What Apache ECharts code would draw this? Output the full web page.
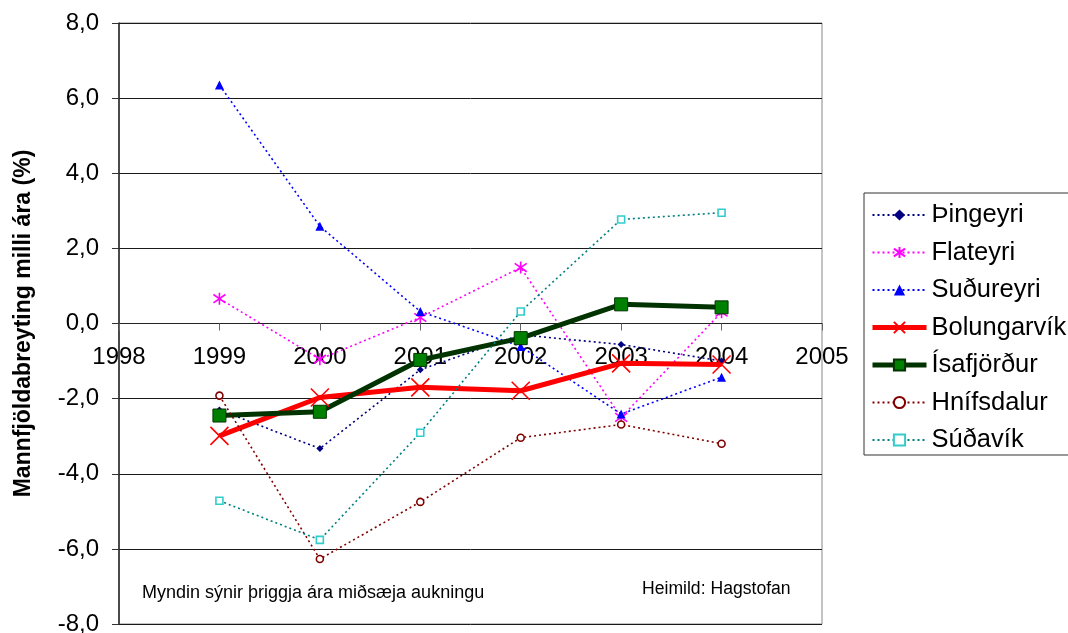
<!DOCTYPE html>
<html>
<head>
<meta charset="utf-8">
<script src="https://cdn.jsdelivr.net/npm/echarts@6/dist/echarts.min.js"></script>
<style>
html,body{margin:0;padding:0;background:#fff;}
#chart{width:1068px;height:633px;}
</style>
</head>
<body>
<div id="chart"></div>
<script>
const years = [1999, 2000, 2001, 2002, 2003, 2004];
const seriesNames = ['Þingeyri', 'Flateyri', 'Suðureyri', 'Bolungarvík', 'Ísafjörður', 'Hnífsdalur', 'Súðavík'];
const thingeyri   = [-2.30, -3.33, -1.23, -0.30, -0.56, -1.00];
const flateyri    = [0.66, -0.95, 0.16, 1.49, -2.50, 0.30];
const sudureyri   = [6.35, 2.59, 0.32, -0.61, -2.41, -1.43];
const bolungarvik = [-2.99, -1.97, -1.70, -1.79, -1.06, -1.09];
const isafjordur  = [-2.45, -2.35, -0.97, -0.39, 0.51, 0.43];
const hnifsdalur  = [-1.92, -6.27, -4.75, -3.04, -2.69, -3.20];
const sudavik     = [-4.72, -5.76, -2.91, 0.32, 2.77, 2.95];
const yTitle = 'Mannfjöldabreyting milli ára (%)';
const note1 = 'Myndin sýnir þriggja ára miðsæja aukningu';
const note2 = 'Heimild: Hagstofan';

const FONT = '"Liberation Sans", Arial, sans-serif';
const pts = v => years.map((y, i) => [y, v[i]]);

const dotted = (name, vals, lineColor, symbol, size, itemStyle) => ({
  name, type: 'line', data: pts(vals),
  symbol, symbolSize: size,
  lineStyle: { color: lineColor, width: 1.6, type: [2, 3] },
  itemStyle,
  emphasis: { disabled: true }
});

const GRID_TOP = 23, GRID_BOTTOM = 9, CHART_H = 633;
const plotH = CHART_H - GRID_TOP - GRID_BOTTOM;

const chart = echarts.init(document.getElementById('chart'), null, { renderer: 'canvas' });
chart.setOption({
  animation: false,
  backgroundColor: '#fff',
  grid: { left: 119, right: 246, top: GRID_TOP, bottom: GRID_BOTTOM, show: true, borderColor: '#888', borderWidth: 1,
          containLabel: false, outerBoundsMode: 'none' },
  xAxis: {
    type: 'value', min: 1998, max: 2005, interval: 1,
    position: 'bottom', offset: -plotH / 2,
    axisLine: { onZero: false, lineStyle: { color: '#222', width: 1 } },
    axisTick: { show: true, length: 7, inside: false, lineStyle: { color: '#666' } },
    axisLabel: { color: '#000', fontSize: 24, fontFamily: FONT, margin: 22, formatter: v => String(v) },
    splitLine: { show: false }
  },
  yAxis: {
    type: 'value', min: -8, max: 8, interval: 2,
    name: yTitle, nameLocation: 'middle', nameRotate: 90, nameGap: 84,
    nameTextStyle: { color: '#000', fontSize: 23, fontWeight: 'bold', fontFamily: FONT },
    axisLine: { show: true, lineStyle: { color: '#222', width: 1.5 } },
    axisTick: { show: true, length: 7, lineStyle: { color: '#333' } },
    axisLabel: { color: '#000', fontSize: 24, fontFamily: FONT, margin: 20,
      formatter: v => v.toFixed(1).replace('.', ',') },
    splitLine: { show: true, lineStyle: { color: '#1a1a1a', width: 1 } }
  },
  legend: {
    orient: 'vertical', left: 864, top: 193,
    padding: [9, 40, 2, 6], itemGap: 11.5, itemWidth: 54, itemHeight: 14,
    borderColor: '#333', borderWidth: 1, backgroundColor: '#fff',
    textStyle: { color: '#000', fontSize: 25.5, fontFamily: FONT, lineHeight: 25 },
    data: seriesNames.map((n, i) => (i === 3 || i === 4) ? { name: n, lineStyle: { width: 5 } } : { name: n })
  },
  graphic: [
    { type: 'text', left: 142, top: 584, style: { text: note1, fontSize: 18, fontFamily: FONT, fill: '#000' } },
    { type: 'text', left: 642, top: 580, style: { text: note2, fontSize: 17.6, fontFamily: FONT, fill: '#000' } }
  ],
  series: [
    dotted(seriesNames[0], thingeyri, '#000080', 'diamond', 7, { color: '#000080' }),
    dotted(seriesNames[1], flateyri, '#FF00FF', 'path://M5,0L5,10M0,1.5L10,8.5M10,1.5L0,8.5', 12,
      { color: 'rgba(0,0,0,0)', borderColor: '#FF00FF', borderWidth: 1.6 }),
    dotted(seriesNames[2], sudureyri, '#0000FF', 'triangle', 9, { color: '#0000FF' }),
    {
      name: seriesNames[3], type: 'line', data: pts(bolungarvik),
      symbol: 'path://M0,0L10,10M10,0L0,10', symbolSize: 18,
      lineStyle: { color: '#FF0000', width: 5 },
      itemStyle: { color: 'rgba(0,0,0,0)', borderColor: '#FF0000', borderWidth: 1.6 },
      emphasis: { disabled: true }
    },
    {
      name: seriesNames[4], type: 'line', data: pts(isafjordur),
      symbol: 'rect', symbolSize: 13,
      lineStyle: { color: '#003300', width: 5 },
      itemStyle: { color: '#008000', borderColor: '#003300', borderWidth: 1 },
      emphasis: { disabled: true }
    },
    dotted(seriesNames[5], hnifsdalur, '#800000', 'circle', 7,
      { color: '#fff', borderColor: '#800000', borderWidth: 1.6 }),
    dotted(seriesNames[6], sudavik, '#008080', 'rect', 7,
      { color: '#fff', borderColor: '#33CCCC', borderWidth: 1.6 })
  ]
});
</script>
</body>
</html>
